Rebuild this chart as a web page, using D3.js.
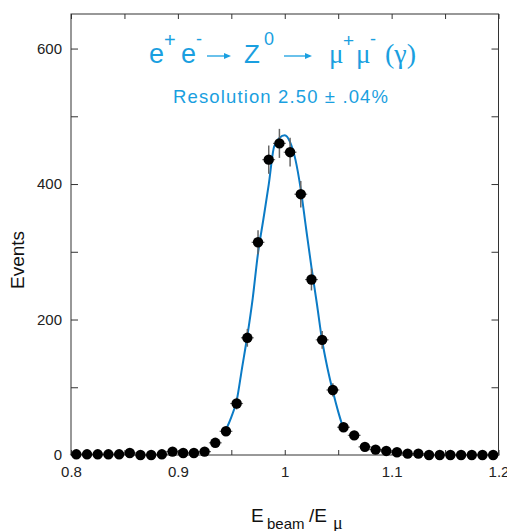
<!DOCTYPE html>
<html>
<head>
<meta charset="utf-8">
<script src="https://cdn.jsdelivr.net/npm/d3@7"></script>
<style>
  body { margin: 0; background: #fff; }
  svg { display: block; font-family: 'Liberation Sans', Arial, sans-serif; }
</style>
</head>
<body>
<svg width="507" height="531"></svg>
<script>
// bin centres of E_beam / E_mu histogram
var binCentres = [0.805, 0.815, 0.825, 0.835, 0.845, 0.855, 0.865, 0.875, 0.885, 0.895,
                  0.905, 0.915, 0.925, 0.935, 0.945, 0.955, 0.965, 0.975, 0.985, 0.995,
                  1.005, 1.015, 1.025, 1.035, 1.045, 1.055, 1.065, 1.075, 1.085, 1.095,
                  1.105, 1.115, 1.125, 1.135, 1.145, 1.155, 1.165, 1.175, 1.185, 1.195];
var events = [1, 1, 1, 1, 1, 3, 0, 0, 1, 5,
              3, 3, 5, 18, 35, 76, 173, 314, 436, 460,
              447, 385, 259, 170, 96, 41, 29, 12, 8, 6,
              4, 2, 2, 0, 0, 0, 0, 0, 0, 0];

// fitted curve
var fitX = [0.944, 0.950, 0.955, 0.960, 0.965, 0.970, 0.975, 0.980, 0.985, 0.990, 0.995,
            1.000, 1.005, 1.010, 1.015, 1.020, 1.025, 1.030, 1.035, 1.040, 1.045, 1.050, 1.054];
var fitY = [34, 56, 80, 128, 176, 231, 298, 348, 399, 455, 468,
            472, 462, 436, 392, 334, 277, 224, 169, 128, 94, 64, 43];

var xMajor = [0.8, 0.9, 1, 1.1, 1.2];
var xMinor = [0.85, 0.95, 1.05, 1.15];
var yMajor = [0, 200, 400, 600];
var yMinor = [100, 300, 500];

var svg = d3.select('svg');

var padLeft = 71, padRight = 498.5, padTop = 14, padBottom = 455;

var x = d3.scaleLinear().domain([0.8, 1.2]).range([padLeft, padRight]);
var y = d3.scaleLinear().domain([0, 651]).range([padBottom, padTop]);

var points = binCentres.map(function(c, i){
    return {x: c, n: events[i]};
});
var fit = fitX.map(function(v, i){
    return {x: v, y: fitY[i]};
});

// frame
svg.append('rect')
    .attr('x', padLeft)
    .attr('y', padTop)
    .attr('width', padRight - padLeft)
    .attr('height', padBottom - padTop)
    .attr('fill', 'none')
    .attr('stroke', '#333')
    .attr('stroke-width', 1);

function styleAxis(g){
    g.select('.domain').remove();
    g.selectAll('line').attr('stroke', '#333');
    g.selectAll('text')
        .attr('fill', '#222')
        .style('font-size', '15px')
        .style('font-family', "'Liberation Sans', Arial, sans-serif");
}

svg.append('g')
    .attr('transform', 'translate(' + padLeft + ',0)')
    .call(d3.axisLeft(y).tickValues(yMajor).tickSize(-7).tickPadding(9).tickFormat(d3.format('d')))
    .call(styleAxis);
svg.append('g')
    .attr('transform', 'translate(' + padLeft + ',0)')
    .call(d3.axisLeft(y).tickValues(yMinor).tickSize(-7).tickFormat(''))
    .call(styleAxis);
svg.append('g')
    .attr('transform', 'translate(' + padRight + ',0)')
    .call(d3.axisRight(y).tickValues(yMajor.concat(yMinor)).tickSize(-7).tickFormat(''))
    .call(styleAxis);

svg.append('g')
    .attr('transform', 'translate(0,' + padBottom + ')')
    .call(d3.axisBottom(x).tickValues(xMajor).tickSize(-5).tickPadding(11).tickFormat(d3.format('~g')))
    .call(styleAxis);
svg.append('g')
    .attr('transform', 'translate(0,' + padBottom + ')')
    .call(d3.axisBottom(x).tickValues(xMinor).tickSize(-5).tickFormat(''))
    .call(styleAxis);
svg.append('g')
    .attr('transform', 'translate(0,' + padTop + ')')
    .call(d3.axisTop(x).tickValues(xMajor.concat(xMinor)).tickSize(-5).tickFormat(''))
    .call(styleAxis);

// fit curve
var line = d3.line()
    .x(function(d){ return x(d.x) })
    .y(function(d){ return y(d.y) })
    .curve(d3.curveMonotoneX);

svg.append('path')
    .datum(fit)
    .attr('d', line)
    .attr('fill', 'none')
    .attr('stroke', '#0b7bc6')
    .attr('stroke-width', 2);

// error bars
svg.selectAll('line.ey')
    .data(points)
    .enter()
    .append('line')
    .attr('class', 'ey')
    .attr('x1', function(d){ return x(d.x) })
    .attr('x2', function(d){ return x(d.x) })
    .attr('y1', function(d){ return y(d.n + Math.sqrt(d.n)) })
    .attr('y2', function(d){ return y(d.n - Math.sqrt(d.n)) })
    .attr('stroke', '#666')
    .attr('stroke-width', 1.5);

svg.selectAll('line.ex')
    .data(points)
    .enter()
    .append('line')
    .attr('class', 'ex')
    .attr('x1', function(d){ return x(d.x - 0.006) })
    .attr('x2', function(d){ return x(d.x + 0.006) })
    .attr('y1', function(d){ return y(d.n) })
    .attr('y2', function(d){ return y(d.n) })
    .attr('stroke', '#666')
    .attr('stroke-width', 1.2);

svg.selectAll('circle.pt')
    .data(points)
    .enter()
    .append('circle')
    .attr('class', 'pt')
    .attr('cx', function(d){ return x(d.x) })
    .attr('cy', function(d){ return y(d.n) })
    .attr('r', 5.2)
    .attr('fill', '#000');

// title
var blue = '#1a9fe0';
var sans = "'Liberation Sans', Arial, sans-serif";
var serif = "'Liberation Serif', 'Times New Roman', serif";
var title = [
    {t: 'e', x: 149, y: 63, s: 27, f: sans},
    {t: '+', x: 164, y: 47, s: 20, f: sans},
    {t: 'e', x: 181, y: 63, s: 27, f: sans},
    {t: '-', x: 196, y: 45, s: 18, f: sans},
    {t: 'Z', x: 244, y: 63, s: 26, f: sans},
    {t: '0', x: 264, y: 45, s: 18, f: sans},
    {t: '\u03bc', x: 329, y: 63, s: 27, f: serif},
    {t: '+', x: 343, y: 47, s: 19, f: sans},
    {t: '\u03bc', x: 356, y: 63, s: 27, f: serif},
    {t: '-', x: 370, y: 45, s: 18, f: sans},
    {t: '(\u03b3)', x: 385, y: 63, s: 28, f: serif}
];
svg.selectAll('text.title')
    .data(title)
    .enter()
    .append('text')
    .attr('class', 'title')
    .attr('x', function(d){ return d.x })
    .attr('y', function(d){ return d.y })
    .attr('fill', blue)
    .style('font-size', function(d){ return d.s + 'px' })
    .style('font-family', function(d){ return d.f })
    .text(function(d){ return d.t });

var arrows = [[207, 231], [284, 312]];
svg.selectAll('line.arrow')
    .data(arrows)
    .enter()
    .append('line')
    .attr('x1', function(d){ return d[0] })
    .attr('x2', function(d){ return d[1] - 5 })
    .attr('y1', 56)
    .attr('y2', 56)
    .attr('stroke', blue)
    .attr('stroke-width', 1.3);
svg.selectAll('path.arrow')
    .data(arrows)
    .enter()
    .append('path')
    .attr('d', function(d){
        return 'M' + d[1] + ',56 L' + (d[1] - 7) + ',53 L' + (d[1] - 7) + ',59 Z'
    })
    .attr('fill', blue);

svg.append('text')
    .attr('x', 173)
    .attr('y', 103)
    .attr('fill', blue)
    .attr('textLength', 215)
    .attr('lengthAdjust', 'spacing')
    .style('font-size', '18.5px')
    .text('Resolution 2.50 \u00b1 .04%');

// axis titles
svg.append('text')
    .attr('transform', 'translate(24,260) rotate(-90)')
    .attr('text-anchor', 'middle')
    .attr('fill', '#111')
    .style('font-size', '19px')
    .text('Events');

var xt = svg.append('text')
    .attr('x', 251)
    .attr('y', 522)
    .attr('fill', '#111')
    .style('font-size', '19px');
xt.append('tspan').text('E');
xt.append('tspan').attr('x', 267).attr('y', 529).style('font-size', '15px').text('beam');
xt.append('tspan').attr('x', 309).attr('y', 522).text('/E');
xt.append('tspan').attr('x', 333).attr('y', 529).style('font-size', '18px').style('font-family', serif).text('\u03bc');
</script>
</body>
</html>
